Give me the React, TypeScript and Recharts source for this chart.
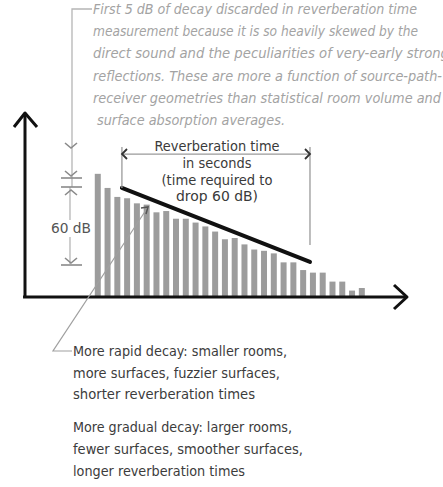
import React from "react";
import { Bar, BarChart, ReferenceLine, XAxis, YAxis } from "recharts";

// decay samples: slice index and relative level in dB
const slices = [
  1, 2, 3, 4, 5, 6, 7, 8, 9, 10, 11, 12, 13, 14, 15, 16, 17, 18, 19, 20, 21,
  22, 23, 24, 25, 26, 27, 28,
];
const levels = [
  96, 85, 78, 77, 73, 72, 66, 67, 61, 61, 58, 55, 51, 45, 46, 41, 37, 36, 34,
  27, 27, 21, 19, 19, 12, 12, 5, 7,
];

// straight-line fit of the decay (slice, dB)
const fitStart = [3.48, 85];
const fitEnd = [22.71, 27.3];

// 60 dB span marked on the left
const spanTop = 85.7;
const spanBottom = 25.7;
const spanSlice = -1.83;

const xDomain = [-6.43, 32.63];
const yDomain = [0, 143.4];

const topNote = [
  "First 5 dB of decay discarded in reverberation time",
  "measurement because it is so heavily skewed by the",
  "direct sound and the peculiarities of very-early strong",
  "reflections. These are more a function of source-path-",
  "receiver geometries than statistical room volume and",
  "surface absorption averages.",
];
const rtLabel = [
  "Reverberation time",
  "in seconds",
  "(time required to",
  "drop 60 dB)",
];
const rapidNote = [
  "More rapid decay: smaller rooms,",
  "more surfaces, fuzzier surfaces,",
  "shorter reverberation times",
];
const gradualNote = [
  "More gradual decay: larger rooms,",
  "fewer surfaces, smoother surfaces,",
  "longer reverberation times",
];

const data = slices.map((t, i) => ({ t, level: levels[i] }));

const hand = "'DejaVu Sans Condensed', 'Liberation Sans Narrow', 'Open Sans', sans-serif";

const topWidths = [324, 325, 356, 349, 348, 188];
const rapidWidths = [214, 207, 182];
const gradualWidths = [219, 230, 172];
const rtWidths = [125, 69, 111, 82];

const Notes = () => (
  <svg
    width={443}
    height={487}
    style={{ position: "absolute", left: 0, top: 0, pointerEvents: "none" }}
  >
    {/* callout bracket for the top note */}
    <polyline points="92,9 72,9 72,187" fill="none" stroke="#b5b5b5" strokeWidth={1.3} />
    {/* chevrons and ticks on the 60 dB span */}
    <g fill="none" stroke="#8a8a8a" strokeWidth={1.6}>
      <polyline points="65,143 71,148 77,143" />
      <polyline points="65,171 71,176 77,171" />
      <line x1={61} y1={178} x2={82} y2={178} />
      <line x1={61} y1={187} x2={82} y2={187} />
      <polyline points="65,195 71,190 77,195" />
      <polyline points="65,258 71,263 77,258" />
      <line x1={61} y1={265} x2={82} y2={265} />
    </g>
    <text
      x={71}
      y={233}
      textAnchor="middle"
      fontFamily={hand}
      fontSize={14}
      fill="#555"
      textLength={40}
      lengthAdjust="spacingAndGlyphs"
    >
      60 dB
    </text>
    {/* axis arrowheads */}
    <g fill="none" stroke="#111" strokeWidth={3} strokeLinejoin="round">
      <polyline points="14,127 25,113 37,127" />
      <polyline points="394,285 407,297 394,309" />
    </g>
    {/* dimension arrowheads for the reverberation time */}
    <g fill="none" stroke="#333" strokeWidth={1.8}>
      <polyline points="127,149 122,154 127,159" />
      <polyline points="305,149 310,154 305,159" />
    </g>
    {/* pointer to the lower notes */}
    <polyline points="148,207 53,351 72,351" fill="none" stroke="#a0a0a0" strokeWidth={1.2} />
    <polyline points="141,208 148,207 146,214" fill="none" stroke="#555" strokeWidth={1.5} />

    {topNote.map((s, i) => (
      <text
        key={s}
        x={i === 5 ? 97 : 93}
        y={14 + i * 22.2}
        fontFamily={hand}
        fontStyle="italic"
        fontSize={13.5}
        fill="#a3a3a3"
        textLength={topWidths[i]}
        lengthAdjust="spacingAndGlyphs"
      >
        {s}
      </text>
    ))}
    {rtLabel.map((s, i) => (
      <text
        key={s}
        x={217}
        y={151 + i * 16.8}
        textAnchor="middle"
        fontFamily={hand}
        fontSize={13.5}
        fill="#3a3a3a"
        textLength={rtWidths[i]}
        lengthAdjust="spacingAndGlyphs"
      >
        {s}
      </text>
    ))}
    {rapidNote.map((s, i) => (
      <text
        key={s}
        x={73}
        y={356 + i * 21.5}
        fontFamily={hand}
        fontSize={14}
        fontWeight={500}
        fill="#3c3c3c"
        textLength={rapidWidths[i]}
        lengthAdjust="spacingAndGlyphs"
      >
        {s}
      </text>
    ))}
    {gradualNote.map((s, i) => (
      <text
        key={s}
        x={73}
        y={432 + i * 22}
        fontFamily={hand}
        fontSize={14}
        fontWeight={500}
        fill="#3c3c3c"
        textLength={gradualWidths[i]}
        lengthAdjust="spacingAndGlyphs"
      >
        {s}
      </text>
    ))}
  </svg>
);

const thinGray = { stroke: "#9a9a9a", strokeWidth: 1.3, ifOverflow: "visible" as const };

export default function App() {
  return (
    <div style={{ position: "relative", width: 443, height: 487, background: "#fff" }}>
      <style>{`body{margin:0}`}</style>
      <BarChart
        width={443}
        height={487}
        data={data}
        margin={{ top: 113, right: 36, bottom: 190, left: 25 }}
      >
        <XAxis
          dataKey="t"
          type="number"
          domain={xDomain}
          allowDataOverflow
          hide
        />
        <YAxis type="number" domain={yDomain} allowDataOverflow hide />
        <Bar dataKey="level" fill="#9c9c9c" barSize={6} isAnimationActive={false} />
        {/* axes */}
        <ReferenceLine
          segment={[
            { x: xDomain[0] - 0.2, y: 0 },
            { x: xDomain[1], y: 0 },
          ]}
          stroke="#111"
          strokeWidth={3}
          ifOverflow="visible"
        />
        <ReferenceLine
          segment={[
            { x: xDomain[0], y: 0 },
            { x: xDomain[0], y: yDomain[1] },
          ]}
          stroke="#111"
          strokeWidth={3}
          ifOverflow="visible"
        />
        <ReferenceLine
          segment={[
            { x: fitStart[0], y: fitStart[1] },
            { x: fitEnd[0], y: fitEnd[1] },
          ]}
          stroke="#111"
          strokeWidth={4}
          strokeLinecap="round"
          ifOverflow="visible"
        />
        {/* reverberation time dimension */}
        <ReferenceLine
          segment={[
            { x: fitStart[0], y: 111.4 },
            { x: fitEnd[0], y: 111.4 },
          ]}
          {...thinGray}
        />
        <ReferenceLine
          segment={[
            { x: fitStart[0], y: 116.9 },
            { x: fitStart[0], y: fitStart[1] },
          ]}
          {...thinGray}
        />
        <ReferenceLine
          segment={[
            { x: fitEnd[0], y: 116.9 },
            { x: fitEnd[0], y: 40.5 },
          ]}
          {...thinGray}
        />
        {/* 60 dB span, broken around its label */}
        <ReferenceLine
          segment={[
            { x: spanSlice, y: spanTop },
            { x: spanSlice, y: 60 },
          ]}
          {...thinGray}
          stroke="#b5b5b5"
        />
        <ReferenceLine
          segment={[
            { x: spanSlice, y: 46.8 },
            { x: spanSlice, y: spanBottom },
          ]}
          {...thinGray}
          stroke="#b5b5b5"
        />
      </BarChart>
      <Notes />
    </div>
  );
}
